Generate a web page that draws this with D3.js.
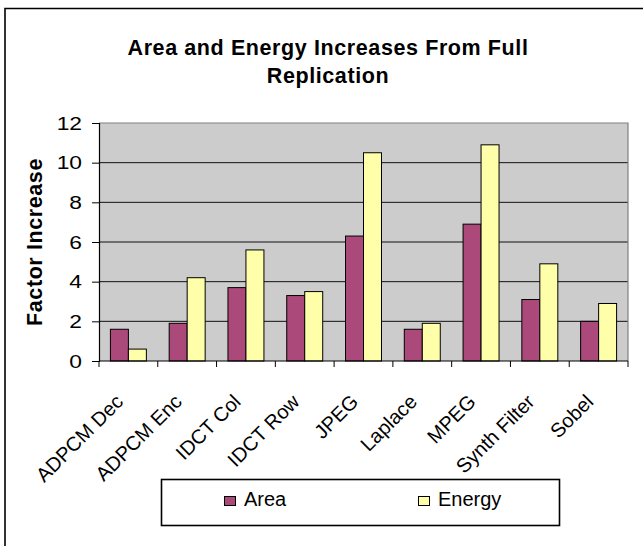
<!DOCTYPE html>
<html>
<head>
<meta charset="utf-8">
<script src="https://cdn.jsdelivr.net/npm/d3@7"></script>
<style>
  html, body { margin: 0; padding: 0; background: #fff; }
  svg { display: block; font-family: "Liberation Sans", Arial, sans-serif; }
</style>
</head>
<body>
<svg id="chart" width="643" height="546"></svg>
<script>
// Benchmarks and the factor by which full replication grows each metric
const categories = ["ADPCM Dec", "ADPCM Enc", "IDCT Col", "IDCT Row", "JPEG", "Laplace", "MPEG", "Synth Filter", "Sobel"];
const areaValues = [1.6, 1.9, 3.7, 3.3, 6.3, 1.6, 6.9, 3.1, 2.0];
const energyValues = [0.6, 4.2, 5.6, 3.5, 10.5, 1.9, 10.9, 4.9, 2.9];
const seriesNames = ["Area", "Energy"];
const seriesColors = ["#AB4A7A", "#FFFFAA"];
const yTicks = [0, 2, 4, 6, 8, 10, 12];

const svg = d3.select("#chart");
const W = 643, H = 546;
const plot = { left: 99, right: 628, top: 123, bottom: 361 };

svg.append("rect").attr("width", W).attr("height", H).attr("fill", "#fff");

// outer chart frame (runs off the right and bottom edges)
svg.append("path")
  .attr("d", `M5,${H + 5} V8.5 H${W + 5}`)
  .attr("fill", "none").attr("stroke", "#000").attr("stroke-width", 1.6);

// title
const title = svg.append("text")
  .attr("text-anchor", "middle")
  .attr("font-weight", "bold")
  .attr("font-size", 21.5)
  .attr("letter-spacing", 0.6)
  .attr("fill", "#000");
title.append("tspan").attr("x", 328).attr("y", 55).text("Area and Energy Increases From Full");
title.append("tspan").attr("x", 328).attr("y", 83).text("Replication");

// scales
const x0 = d3.scaleBand().domain(categories).range([plot.left, plot.right]).padding(0);
const gap = x0.bandwidth() * 0.194;
const x1 = d3.scaleBand().domain(seriesNames).range([gap, x0.bandwidth() - gap]).padding(0);
const y = d3.scaleLinear().domain([0, 12]).range([plot.bottom, plot.top]);

// plot background
svg.append("rect")
  .attr("x", plot.left).attr("y", plot.top)
  .attr("width", plot.right - plot.left).attr("height", plot.bottom - plot.top)
  .attr("fill", "#CCCCCC");

// gridlines
svg.append("g").selectAll("line")
  .data(yTicks.filter(v => v > 0 && v < 12))
  .join("line")
  .attr("x1", plot.left).attr("x2", plot.right)
  .attr("y1", d => y(d)).attr("y2", d => y(d))
  .attr("stroke", "#111").attr("stroke-width", 1);

// top and right plot border
svg.append("path")
  .attr("d", `M${plot.left},${y(12)} H${plot.right} V${plot.bottom}`)
  .attr("fill", "none").attr("stroke", "#808080").attr("stroke-width", 1.2);

// bars
const rows = categories.map((c, i) => ({ cat: c, vals: [areaValues[i], energyValues[i]] }));
const groups = svg.append("g").selectAll("g")
  .data(rows).join("g")
  .attr("transform", d => `translate(${x0(d.cat)},0)`);
groups.selectAll("rect")
  .data(d => d.vals.map((v, k) => ({ key: seriesNames[k], v, k })))
  .join("rect")
  .attr("x", d => x1(d.key))
  .attr("width", x1.bandwidth())
  .attr("y", d => y(d.v))
  .attr("height", d => y(0) - y(d.v))
  .attr("fill", d => seriesColors[d.k])
  .attr("stroke", "#000").attr("stroke-width", 1);

// y axis
const yAxis = svg.append("g")
  .attr("transform", `translate(${plot.left},0)`)
  .call(d3.axisLeft(y).tickValues(yTicks).tickFormat(d3.format("d")).tickSize(7).tickPadding(10));
yAxis.select(".domain").attr("stroke", "#000").attr("stroke-width", 1.2);
yAxis.selectAll(".tick line").attr("stroke", "#000");
yAxis.selectAll(".tick text")
  .attr("font-size", 19).attr("fill", "#000")
  .attr("font-family", "'Liberation Sans', Arial, sans-serif")
  .attr("transform", "translate(-17,0) scale(1.2,1) translate(17,0)");

// x axis: ticks on category boundaries
const xAxisG = svg.append("g");
xAxisG.append("line")
  .attr("x1", plot.left).attr("x2", plot.right)
  .attr("y1", plot.bottom).attr("y2", plot.bottom)
  .attr("stroke", "#000").attr("stroke-width", 1.2);
const boundaries = categories.map(c => x0(c)).concat([plot.right]);
xAxisG.selectAll("line.tk")
  .data(boundaries).join("line").attr("class", "tk")
  .attr("x1", d => d).attr("x2", d => d)
  .attr("y1", plot.bottom).attr("y2", plot.bottom + 6)
  .attr("stroke", "#000");
xAxisG.selectAll("text")
  .data(categories).join("text")
  .attr("transform", d => `translate(${x0(d) + x0.bandwidth() / 2 - 4},${plot.bottom + 42}) rotate(-45)`)
  .attr("text-anchor", "end")
  .attr("font-size", 20)
  .attr("fill", "#000")
  .text(d => d);

// y axis title
svg.append("text")
  .attr("transform", `translate(42,${(plot.top + plot.bottom) / 2}) rotate(-90)`)
  .attr("text-anchor", "middle")
  .attr("font-weight", "bold")
  .attr("font-size", 21.5)
  .attr("letter-spacing", 0.6)
  .text("Factor Increase");

// legend
const legend = svg.append("g");
legend.append("rect")
  .attr("x", 161.5).attr("y", 479.5).attr("width", 398).attr("height", 46)
  .attr("fill", "#fff").attr("stroke", "#000").attr("stroke-width", 1.6);
const legendX = [224, 418];
const legendItems = legend.selectAll("g.item")
  .data(seriesNames).join("g").attr("class", "item")
  .attr("transform", (d, i) => `translate(${legendX[i]},0)`);
legendItems.append("rect")
  .attr("x", 0.5).attr("y", 496.5).attr("width", 11).attr("height", 9)
  .attr("fill", (d, i) => seriesColors[i]).attr("stroke", "#000").attr("stroke-width", 1);
legendItems.append("text")
  .attr("x", 20).attr("y", 506)
  .attr("font-size", 20).attr("fill", "#000")
  .text(d => d);
</script>
</body>
</html>
